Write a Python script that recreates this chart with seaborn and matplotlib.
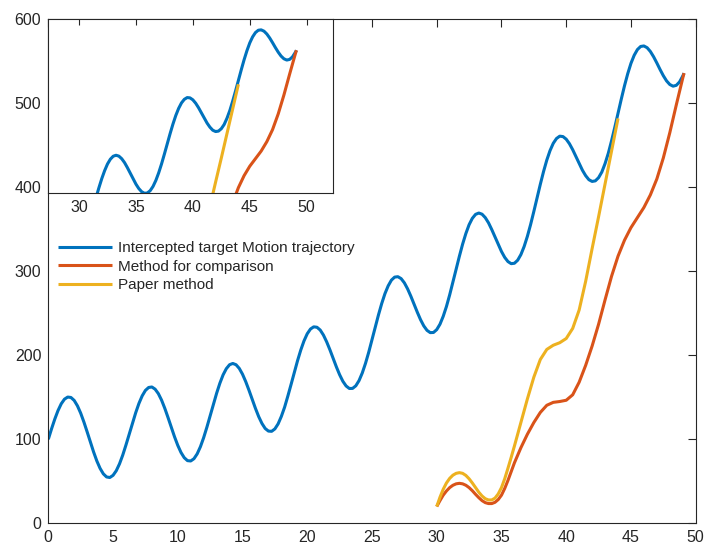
import numpy as np
import pandas as pd
import seaborn as sns
import matplotlib.pyplot as plt

# target trajectory, sampled every 0.25 from x=0 to 49, plus the end point at 49.1
target_x = np.append(np.arange(0, 49.01, 0.25), 49.1)
target_y = [100.0, 112.4, 124.0, 134.2, 142.3, 147.8, 150.3, 149.8,
            146.3, 139.9, 131.2, 120.6, 108.9, 96.7, 84.9, 74.2,
            65.4, 58.9, 55.2, 54.5, 57.1, 62.6, 70.8, 81.2,
            93.3, 106.2, 119.2, 131.6, 142.7, 151.7, 158.2, 161.7,
            162.3, 159.7, 154.4, 146.6, 136.8, 125.8, 114.3, 103.0,
            92.8, 84.3, 78.1, 74.6, 74.2, 76.9, 82.7, 91.2,
            102.0, 114.5, 128.0, 141.6, 154.8, 166.7, 176.7, 184.1,
            188.8, 190.3, 188.8, 184.4, 177.5, 168.6, 158.4, 147.5,
            136.8, 127.0, 118.9, 112.9, 109.8, 109.5, 112.4, 118.4,
            127.3, 138.2, 151.4, 165.3, 179.7, 193.6, 206.3, 217.2,
            225.7, 231.3, 233.9, 233.4, 230.1, 224.1, 216.0, 206.6,
            196.4, 186.2, 176.9, 169.1, 163.5, 160.5, 160.6, 163.7,
            169.9, 179.0, 190.5, 203.8, 218.4, 233.4, 248.1, 261.6,
            273.4, 282.7, 289.5, 293.1, 293.6, 291.3, 286.3, 279.1,
            270.4, 260.8, 251.3, 242.4, 235.0, 229.7, 227.0, 227.2,
            230.6, 237.0, 246.4, 258.1, 272.0, 287.1, 302.6, 318.0,
            332.4, 345.0, 355.5, 363.1, 367.8, 369.4, 368.0, 363.9,
            357.7, 349.7, 340.9, 332.0, 323.6, 316.6, 311.6, 309.1,
            309.6, 313.2, 319.9, 329.5, 341.6, 355.7, 371.3, 387.6,
            403.6, 418.8, 432.4, 443.7, 452.4, 458.1, 460.9, 460.4,
            457.3, 451.9, 444.8, 436.6, 428.3, 420.4, 413.9, 409.1,
            407.0, 407.7, 411.5, 418.2, 428.2, 440.5, 455.3, 471.3,
            488.1, 504.8, 520.8, 535.2, 547.6, 557.2, 564.0, 567.7,
            568.3, 566.2, 561.7, 555.4, 548.0, 540.2, 532.9, 526.7,
            522.4, 520.4, 521.4, 525.4, 532.5, 535.8]

# comparison method: every 0.25 over the first bump, then every 0.5, plus end at 49.1
compare_x = np.concatenate([np.arange(30, 36, 0.25), np.arange(36, 49.01, 0.5), [49.1]])
compare_y = [20, 27, 33.5, 38.5, 42.5, 45.3, 47, 47.6,
             47, 45.3, 42.5, 38.8, 34.5, 30.5, 27, 24.6,
             23.5, 23.5, 25, 28.3, 33.5, 41.5, 51, 61.5,
             72, 90, 106, 120, 132, 140.5, 144, 145, 146.5, 153,
             168, 188, 211, 237, 266, 294, 318, 337, 352, 364,
             376, 391, 410, 435, 465, 498, 530, 536]

# paper method: every 0.25 over the first bump, then every 0.5 up to 44
paper_x = np.concatenate([np.arange(30, 36, 0.25), np.arange(36, 44.01, 0.5)])
paper_y = [20, 31, 40.5, 48, 53.5, 57.3, 59.5, 60.3,
           59.5, 57, 53, 48, 42.5, 37, 32.5, 29.3,
           27.8, 27.8, 30, 35, 42.5, 53, 65.5, 78.5,
           92, 120, 148, 174, 195, 207, 212, 215, 220,
           232, 254, 288, 327, 365, 404, 443, 482]

labels = ['Intercepted target Motion trajectory', 'Method for comparison', 'Paper method']
colors = ['#0072BD', '#D95319', '#EDB120']
series = [(target_x, target_y), (compare_x, compare_y), (paper_x, paper_y)]

sns.set_theme(style='white')
plt.rcParams['font.family'] = ['Liberation Sans', 'DejaVu Sans']
DARK = '#262626'


def draw_lines(ax, with_labels):
    for (x, y), c, lab in zip(series, colors, labels):
        sns.lineplot(x=x, y=y, color=c, linewidth=2.2, ax=ax, estimator=None, sort=False,
                     label=lab if with_labels else None, legend=with_labels,
                     solid_joinstyle='round', solid_capstyle='butt')
    ax.set_xlabel('')
    ax.set_ylabel('')
    for s in ax.spines.values():
        s.set_color(DARK)
        s.set_linewidth(0.8)


fig = plt.figure(figsize=(7.05, 5.49), dpi=100)

# main axes
ax = fig.add_axes([0.0685, 0.0468, 0.9183, 0.918])
draw_lines(ax, True)
ax.set_xlim(0, 50)
ax.set_ylim(0, 600)
ax.set_xticks(range(0, 51, 5))
ax.set_yticks(range(0, 601, 100))
ax.tick_params(direction='in', top=True, right=True, length=6, width=0.8,
               colors=DARK, labelsize=11.5, pad=5)
ax.legend(loc='center left', bbox_to_anchor=(0.0154, 0.509), frameon=False, fontsize=11,
          handlelength=3.5, handletextpad=0.4, labelspacing=0.3, borderpad=0, borderaxespad=0)

# zoomed inset in the upper left corner
ax_in = fig.add_axes([0.0685, 0.649, 0.4043, 0.3158])
draw_lines(ax_in, False)
ax_in.set_xlim(27.3, 52.34)
ax_in.set_ylim(310, 585)
ax_in.set_xticks(range(30, 51, 5))
ax_in.set_yticks([])
ax_in.tick_params(direction='in', top=True, length=4, width=0.8,
                  colors=DARK, labelsize=11.5, pad=5)

fig.savefig('out.png', dpi=100)
